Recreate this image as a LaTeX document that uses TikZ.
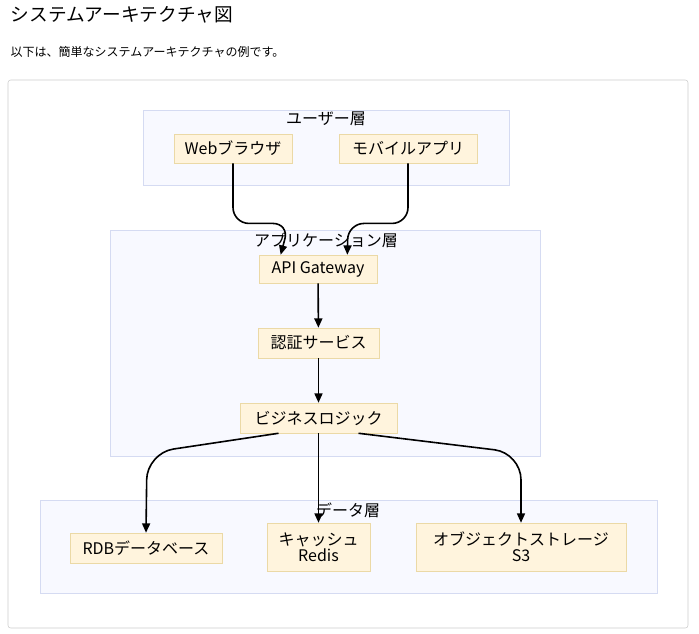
\documentclass[tikz,border=0pt]{standalone}
\usepackage{fontspec}
\setmainfont{Noto Sans CJK JP}
\usetikzlibrary{positioning,arrows.meta}
\definecolor{nodefill}{HTML}{FFF4DD}
\definecolor{nodeline}{HTML}{EBD9A6}
\definecolor{clusterfill}{HTML}{F8F9FF}
\definecolor{clusterline}{HTML}{D5DBF2}
\tikzset{
  box/.style={draw=nodeline, fill=nodefill, inner sep=0pt, font=\fontsize{12}{12}\selectfont, align=center},
  layer/.style={draw=clusterline, fill=clusterfill},
  flow/.style={-{Triangle[length=7pt,width=6pt]}, line width=1.2pt, rounded corners=12pt}
}
\begin{document}
\begin{tikzpicture}[x=0.75pt,y=-0.75pt]
  \useasboundingbox (0,0) rectangle (699,633);
  \node[anchor=west, font=\fontsize{14}{14}\selectfont] (title) at (6,15) {システムアーキテクチャ図};
  \node[anchor=west, font=\fontsize{9}{9}\selectfont] (sub) at (6,52) {以下は、簡単なシステムアーキテクチャの例です。};
  \draw[draw=black!20, rounded corners=2pt] (8,80) rectangle (688,628);

  % layers
  \draw[layer] (143,110) rectangle (509,185);
  \draw[layer] (110,230) rectangle (540,456);
  \draw[layer] (40,500) rectangle (657,593);

  % nodes
  \node[box, minimum width=88.5pt, minimum height=22pt] (web) at (233,148.5) {Webブラウザ};
  \node[box, minimum width=103.5pt, minimum height=22pt] (mobile) at (408,148.5) {モバイルアプリ};
  \node[box, minimum width=88.5pt, minimum height=21pt] (gw) at (318,269) {API Gateway};
  \node[box, minimum width=90.75pt, minimum height=22.5pt] (auth) at (318.5,343) {認証サービス};
  \node[box, minimum width=117.75pt, minimum height=22.5pt] (logic) at (318.5,418) {ビジネスロジック};
  \node[box, minimum width=114pt, minimum height=22.5pt] (rdb) at (146,548) {RDBデータベース};
  \node[box, minimum width=77.25pt, minimum height=36pt] (cache) at (318.5,547) {キャッシュ\\Redis};
  \node[box, minimum width=157.5pt, minimum height=36pt] (obj) at (521,547) {オブジェクトストレージ\\S3};

  % layer labels
  \node[font=\fontsize{12}{12}\selectfont] (userlbl) at (326,119) {ユーザー層};
  \node[font=\fontsize{12}{12}\selectfont] (applbl) at (326,240) {アプリケーション層};
  \node[font=\fontsize{12}{12}\selectfont] (datalbl) at (348,510) {データ層};

  % connectors
  \draw[flow] (web.south) -- ++(0,60) -- ++(56,0) -- ([xshift=-28pt]gw.north);
  \draw[flow] (mobile.south) -- ++(0,60) -- ++(-60,0) -- ([xshift=22pt]gw.north);
  \draw[flow] (gw) -- (auth);
  \draw[flow] (auth) -- (logic);
  \draw[flow] (logic.south) -- (cache.north);
  \draw[flow, rounded corners=20pt] ([xshift=-30pt]logic.south) -- (147,453) -- (rdb.north);
  \draw[flow, rounded corners=20pt] ([xshift=30pt]logic.south) -- (521,453) -- (obj.north);
\end{tikzpicture}
\end{document}
